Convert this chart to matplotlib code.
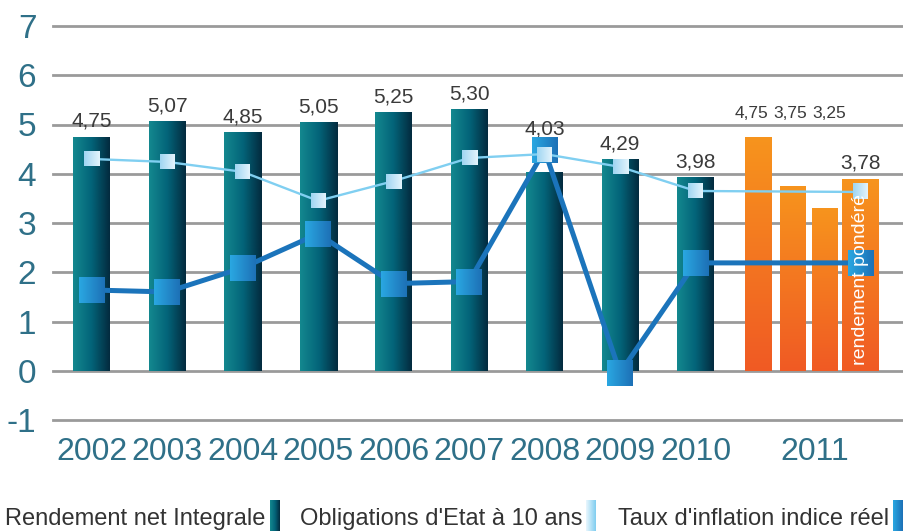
import numpy as np
import matplotlib
matplotlib.use("Agg")
import matplotlib.pyplot as plt
from matplotlib.colors import LinearSegmentedColormap

# ---------------- data ----------------
years = ['2002', '2003', '2004', '2005', '2006', '2007', '2008', '2009', '2010']
rendement = [4.75, 5.07, 4.85, 5.05, 5.25, 5.30, 4.03, 4.29, 3.92]
rendement_labels = ['4,75', '5,07', '4,85', '5,05', '5,25', '5,30', '4,03', '4,29', '3,98']
year_2011 = '2011'
rendement_2011 = [4.75, 3.75, 3.29, 3.89]
rendement_2011_labels = ['4,75', '3,75', '3,25', '3,78']
obligations = [4.30, 4.24, 4.04, 3.45, 3.85, 4.32, 4.40, 4.14, 3.65, 3.63]
inflation = [1.64, 1.60, 2.09, 2.78, 1.77, 1.81, 4.48, -0.04, 2.19, 2.19]
yticks = [-1, 0, 1, 2, 3, 4, 5, 6, 7]
legend_labels = ['Rendement net Integrale', "Obligations d'Etat à 10 ans", "Taux d'inflation indice réel"]
ponder_label = 'rendement pondéré'

# ---------------- style ----------------
plt.rcParams['font.family'] = ['Liberation Sans', 'DejaVu Sans']
tick_color = '#2f7088'
val_color = '#3a3a3a'
grid_color = '#9a9a9a'
teal_cmap = LinearSegmentedColormap.from_list('teal', ['#14888f', '#036479', '#032a3e'])
orange_cmap = LinearSegmentedColormap.from_list('orange', ['#f05a24', '#f7941d'])
dark_cmap = LinearSegmentedColormap.from_list('dark', ['#2aa8e2', '#1d70b6'])
light_cmap = LinearSegmentedColormap.from_list('light', ['#9fd5f2', '#e4f4fc'])
legend_light_cmap = LinearSegmentedColormap.from_list('llight', ['#eaf7fd', '#7fcdf0'])
light_line = '#80cff1'
dark_line = '#1b74bb'

W, H = 904, 531
fig = plt.figure(figsize=(W / 100, H / 100), dpi=100)
ax = fig.add_axes([53 / W, (H - 420) / H, 851 / W, 394 / H])
ax.set_xlim(-0.51, 10.76)
ax.set_ylim(-1, 7)
for s in ax.spines.values():
    s.set_visible(False)

hgrad = np.linspace(0, 1, 256).reshape(1, -1)
vgrad = np.linspace(0, 1, 256).reshape(-1, 1)

# gridlines
for t in yticks:
    ax.axhline(t, color=grid_color, lw=2.0, zorder=0.5, clip_on=False)

# main bars
bw = 0.49
x = np.arange(len(years))
for xi, v in zip(x, rendement):
    ax.imshow(hgrad, cmap=teal_cmap, extent=[xi - bw / 2, xi + bw / 2, 0, v],
              aspect='auto', zorder=1, origin='lower')
for xi, v, lab in zip(x, rendement, rendement_labels):
    yl = v + 0.2
    if lab == '4,03':
        yl = 4.8
    ax.text(xi, yl, lab, ha='center', va='baseline', fontsize=15, color=val_color)

# 2011 group
x11 = 9 + np.array([-0.17, 0.285, 0.71, 1.19])
w11 = [0.345, 0.335, 0.335, 0.49]
for xi, wi, v in zip(x11, w11, rendement_2011):
    ax.imshow(vgrad, cmap=orange_cmap, extent=[xi - wi / 2, xi + wi / 2, 0, v],
              aspect='auto', zorder=1, origin='lower')
small_lab_x = 9 + np.array([-0.26, 0.25, 0.77])
for i, (xi, v, lab) in enumerate(zip(x11, rendement_2011, rendement_2011_labels)):
    if i < 3:
        ax.text(small_lab_x[i], 5.13, lab, ha='center', va='baseline', fontsize=12.5, color=val_color)
    else:
        ax.text(xi, v + 0.21, lab, ha='center', va='baseline', fontsize=15, color=val_color)

ax.text(x11[-1], 0.12, ponder_label, rotation=90, ha='center', va='bottom',
        fontsize=14, color='white', zorder=8)

# lines
xl = np.append(x, x11[-1])
ax.plot(xl, inflation, color=dark_line, lw=3.6, zorder=3, solid_joinstyle='miter')
ax.plot(xl, obligations, color=light_line, lw=1.7, zorder=5)

fig.canvas.draw()
to_disp = ax.transData
inv = ax.transData.inverted()


def grad_square(xc, yc, size_px, cmap, z):
    px, py = to_disp.transform((xc, yc))
    h = size_px / 2
    (x0, y0) = inv.transform((px - h, py - h))
    (x1, y1) = inv.transform((px + h, py + h))
    ax.imshow(hgrad, cmap=cmap, extent=[x0, x1, y0, y1], aspect='auto',
              zorder=z, origin='lower', clip_on=False)


for xi, v in zip(xl, inflation):
    grad_square(xi, v, 26, dark_cmap, 4)
for xi, v in zip(xl, obligations):
    grad_square(xi, v, 15, light_cmap, 6)

ax.set_xlim(-0.51, 10.76)
ax.set_ylim(-1, 7)

# ticks
ax.set_yticks(yticks)
ax.set_yticklabels([str(t) for t in yticks], fontsize=24, color=tick_color)
xt = list(x) + [9.58]
ax.set_xticks(xt)
ax.set_xticklabels(years + [year_2011], fontsize=23, color=tick_color)
ax.tick_params(axis='both', length=0)
ax.tick_params(axis='y', pad=12)
ax.tick_params(axis='x', pad=12)

# legend
leg_x = [5, 300, 618]
patch_x = [270, 586, 893]
patch_cmaps = [teal_cmap, legend_light_cmap, dark_cmap]
for lab, tx, pxx, cm in zip(legend_labels, leg_x, patch_x, patch_cmaps):
    fig.text(tx / W, (H - 525) / H, lab, fontsize=17, color='#333333', ha='left', va='baseline')
    pax = fig.add_axes([pxx / W, 0, 10 / W, 31 / H])
    pax.imshow(hgrad, cmap=cm, aspect='auto')
    pax.axis('off')

fig.savefig('out.png', dpi=100)
